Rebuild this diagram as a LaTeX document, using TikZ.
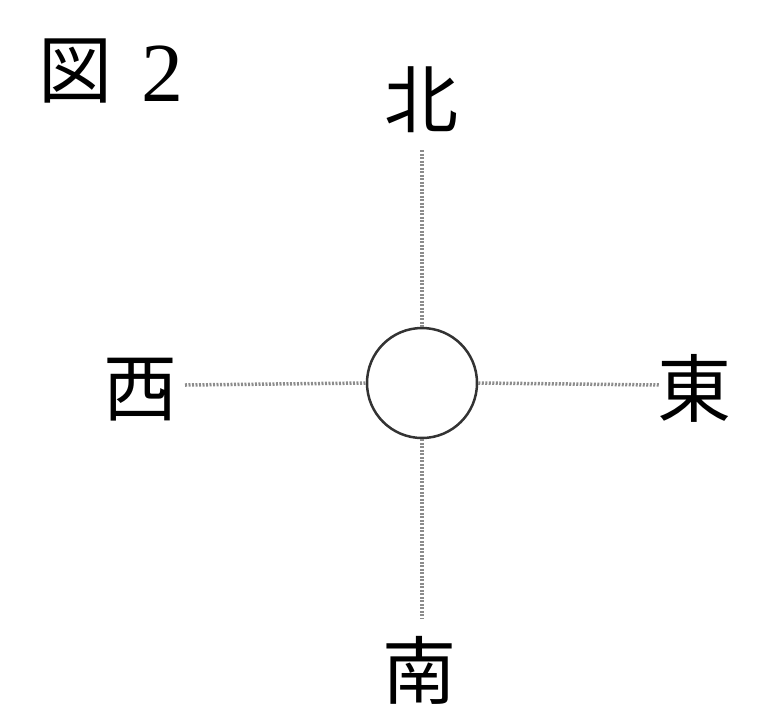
\documentclass[tikz,border=0pt]{standalone}
\usepackage{fontspec}
\setmainfont{Liberation Serif}
\newfontfamily\cjk{Noto Sans CJK JP}
\begin{document}
\begin{tikzpicture}[x=1pt,y=-1pt,
  lbl/.style={inner sep=0pt,font=\cjk\fontsize{74}{74}\selectfont},
  guide/.style={draw=black!45,line width=3.5pt,dash pattern=on 2pt off 1.5pt}]
\useasboundingbox (0,0) rectangle (783,710);
\node[lbl] (t1) at (75,71) {図};
\node[inner sep=0pt,font=\rmfamily\fontsize{84}{84}\selectfont] (t2) at (162,74) {2};
\node[lbl] (n) at (421,100) {北};
\node[lbl] (s) at (419,670) {南};
\node[lbl] (w) at (140,390) {西};
\node[lbl] (e) at (694,388) {東};
\node[circle,draw=black!80,line width=2.5pt,minimum size=110pt,inner sep=0pt] (c) at (422,383) {};
\coordinate (nt) at (422,150);
\coordinate (sb) at (422,618);
\coordinate (wl) at (185,385);
\coordinate (er) at (660,385);
\draw[guide] (nt) -- (c.north);
\draw[guide] (c.south) -- (sb);
\draw[guide] (wl) -- (c.west);
\draw[guide] (c.east) -- (er);
\end{tikzpicture}
\end{document}
